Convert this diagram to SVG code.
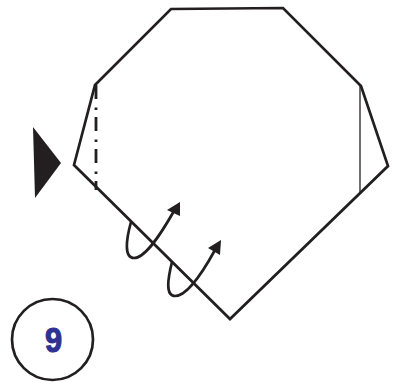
<svg xmlns="http://www.w3.org/2000/svg" width="399" height="382" viewBox="0 0 399 382">
<defs><style>
.o{fill:none;stroke:#231f20;stroke-width:2.7;stroke-linejoin:miter}
.c{fill:none;stroke:#231f20;stroke-width:2.7}
.a{fill:#231f20}
</style></defs>
<g id="paper">
<path class="o" d="M74 165L95 85L171 9L283 8L361 86L388 166L230 319Z"/>
<path d="M360 86V192" fill="none" stroke="#231f20" stroke-width="1.3"/>
<path d="M96 85V190" fill="none" stroke="#231f20" stroke-width="2.8" stroke-dasharray="14 8.5 2.5 7"/>
</g>
<g id="connectors">
<path class="c" d="M131 222C126 240 124 258 134 258C146 258 162 232 174 211"/>
<path class="a" d="M180 202L180 216L167 210Z"/>
<path class="c" d="M172 262C168 278 165 296 175 296C188 296 204 270 215 250"/>
<path class="a" d="M221 240L220 255L208 248Z"/>
</g>
<g id="pointer"><path class="a" d="M33 127L61 163L35 198Z"/></g>
<g id="step">
<circle cx="52.500" cy="339.500" r="40.500" fill="none" stroke="#231f20" stroke-width="2.700"/>
<text transform="translate(53.500 352) scale(.88 1)" text-anchor="middle" font-family="'Liberation Sans',Arial,sans-serif" font-weight="700" font-size="35" fill="#2e3192" stroke="#2e3192" stroke-width="1.1">9</text>
</g>
</svg>
